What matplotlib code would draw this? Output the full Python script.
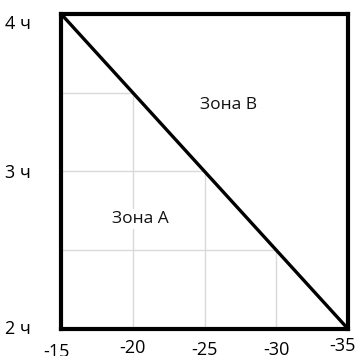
import matplotlib.pyplot as plt
import matplotlib.transforms as mtransforms
import numpy as np

plt.rcParams["font.family"] = ["Open Sans", "DejaVu Sans"]

# boundary between zones: temperature vs hours
boundary_temp = [-15, -35]
boundary_hours = [4, 2]

x_ticks = [-15, -20, -25, -30, -35]
x_tick_labels = ["-15", "-20", "-25", "-30", "-35"]
y_ticks = [2, 3, 4]
y_tick_labels = ["2 ч", "3 ч", "4 ч"]

grid_temps = [-20, -25, -30]
grid_hours = [2.5, 3, 3.5]

zone_labels = ["Зона А", "Зона В"]
zone_temps = [-20.5, -26.7]
zone_hours = [2.70, 3.42]


def main() -> None:
    fig = plt.figure(figsize=(3.57, 3.56), dpi=100)
    ax = fig.add_axes([0.171, 0.076, 0.804, 0.885])

    # interp needs increasing x, so flip the boundary
    bx = boundary_temp[::-1]
    by = boundary_hours[::-1]
    grid_color = "#d9d9d9"
    for t in grid_temps:
        top = np.interp(t, bx, by)
        ax.plot([t, t], [boundary_hours[1], top], color=grid_color, lw=1, zorder=1)
    for h in grid_hours:
        right = np.interp(h, by, bx)
        ax.plot([boundary_temp[0], right], [h, h], color=grid_color, lw=1, zorder=1)

    ax.plot(boundary_temp, boundary_hours, color="black", lw=2.4,
            solid_capstyle="butt", zorder=3, clip_on=False)

    for label, t, h in zip(zone_labels, zone_temps, zone_hours):
        ax.text(t, h, label, ha="center", va="center", fontsize=12.5,
                color="#111111", zorder=2,
                bbox=dict(facecolor="white", edgecolor="none", pad=1.5))

    ax.set_xlim(-15, -35)
    ax.set_ylim(2, 4)
    ax.set_xticks(x_ticks)
    ax.set_xticklabels(x_tick_labels, fontsize=13)
    ax.set_yticks(y_ticks)
    ax.set_yticklabels(y_tick_labels, fontsize=13)
    ax.tick_params(length=0)
    ax.tick_params(axis="x", pad=9)
    ax.tick_params(axis="y", pad=40)
    for lbl in ax.get_yticklabels():
        lbl.set_horizontalalignment("left")

    # small nudges so the outer labels sit like the reference
    x_offsets = [(-5, -2), (0, 2), (0, 0), (0, 0), (-6, 4)]
    for lbl, (dx, dy) in zip(ax.get_xticklabels(), x_offsets):
        off = mtransforms.ScaledTranslation(dx / 100, dy / 100, fig.dpi_scale_trans)
        lbl.set_transform(lbl.get_transform() + off)
    y_offsets = [(0, 2), (0, 0), (0, -8)]
    for lbl, (dx, dy) in zip(ax.get_yticklabels(), y_offsets):
        off = mtransforms.ScaledTranslation(dx / 100, dy / 100, fig.dpi_scale_trans)
        lbl.set_transform(lbl.get_transform() + off)

    for spine in ax.spines.values():
        spine.set_linewidth(3)
        spine.set_color("black")

    fig.savefig("out.png", dpi=100)
    plt.close(fig)


if __name__ == "__main__":
    main()
